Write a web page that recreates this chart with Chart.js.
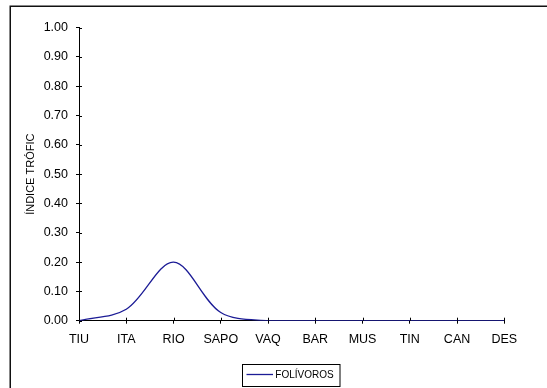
<!DOCTYPE html>
<html>
<head>
<meta charset="utf-8">
<script src="https://cdn.jsdelivr.net/npm/chart.js@4.4.0/dist/chart.umd.min.js"></script>
<style>
html,body{margin:0;padding:0;background:#fff;}
#wrap{width:547px;height:388px;position:relative;}
</style>
</head>
<body>
<div id="wrap"><canvas id="c" width="547" height="388"></canvas></div>
<script>
const categories = ['TIU','ITA','RIO','SAPO','VAQ','BAR','MUS','TIN','CAN','DES'];
const folivoros = [0, 0.039, 0.20, 0.028, 0, 0, 0, 0, 0, 0];
const seriesLabel = 'FOLÍVOROS';
const yTitle = 'ÍNDICE TRÓFIC';
const lineColor = '#1c1c96';
const FONT = '"Liberation Sans", Arial, sans-serif';

const decorPlugin = {
  id: 'decor',
  beforeDraw(chart) {
    const ctx = chart.ctx;
    ctx.save();
    ctx.fillStyle = '#fff';
    ctx.fillRect(0, 0, chart.width, chart.height);
    ctx.restore();
  },
  afterDraw(chart) {
    const ctx = chart.ctx;
    const xs = chart.scales.x, ys = chart.scales.y;
    const area = chart.chartArea;
    ctx.save();
    ctx.strokeStyle = '#000';
    ctx.lineWidth = 1;
    ctx.beginPath();
    ys.ticks.forEach((t, i) => {
      const y = Math.round(ys.getPixelForTick(i)) + 0.5;
      ctx.moveTo(area.left, y); ctx.lineTo(area.left + 3, y);
    });
    xs.ticks.forEach((t, i) => {
      const x = Math.round(xs.getPixelForTick(i)) + 0.5;
      ctx.moveTo(x, area.bottom); ctx.lineTo(x, area.bottom - 3);
    });
    ctx.stroke();
    ctx.lineWidth = 1.5;
    ctx.strokeStyle = '#111';
    ctx.strokeRect(10.25, 6.25, 560, 400);
    const lx = 242.5, ly = 364.5, lw = 97.5, lh = 22;
    ctx.lineWidth = 1;
    ctx.strokeStyle = '#000';
    ctx.strokeRect(lx, ly, lw, lh);
    ctx.strokeStyle = lineColor;
    ctx.lineWidth = 1.3;
    ctx.beginPath();
    ctx.moveTo(246.5, 374.5); ctx.lineTo(273, 374.5);
    ctx.stroke();
    ctx.fillStyle = '#000';
    ctx.font = '10px ' + FONT;
    ctx.textBaseline = 'middle';
    ctx.textAlign = 'left';
    ctx.fillText(chart.data.datasets[0].label, 275.3, 375);
    ctx.restore();
  }
};

new Chart(document.getElementById('c'), {
  type: 'line',
  data: {
    labels: categories,
    datasets: [{
      label: seriesLabel,
      data: folivoros,
      borderColor: lineColor,
      backgroundColor: lineColor,
      borderWidth: 1.3,
      pointRadius: 0,
      tension: 0.33,
      fill: false
    }]
  },
  options: {
    responsive: false,
    animation: false,
    layout: { padding: { left: 0, right: 42.7, top: 27.7, bottom: 0 } },
    plugins: { legend: { display: false }, tooltip: { enabled: false } },
    scales: {
      x: {
        offset: false,
        grid: { display: true, drawOnChartArea: false, tickLength: 3, color: '#000', tickColor: '#000' },
        border: { display: true, color: '#000', width: 1 },
        ticks: { color: '#000', font: { family: FONT, size: 12.5 }, padding: 8.5, maxRotation: 0, autoSkip: false },
        afterFit(s) { s.height = 67.3; }
      },
      y: {
        min: 0, max: 1,
        grid: { display: true, drawOnChartArea: false, tickLength: 3, color: '#000', tickColor: '#000' },
        border: { display: true, color: '#000', width: 1 },
        ticks: { stepSize: 0.1, color: '#000', font: { family: FONT, size: 12.5 }, padding: 8,
          callback: v => Number(v).toFixed(2) },
        title: { display: true, text: yTitle, color: '#000', font: { family: FONT, size: 11 }, padding: { top: 24, bottom: 0 } },
        afterFit(s) { s.width = 79; }
      }
    }
  },
  plugins: [decorPlugin]
});
</script>
</body>
</html>
